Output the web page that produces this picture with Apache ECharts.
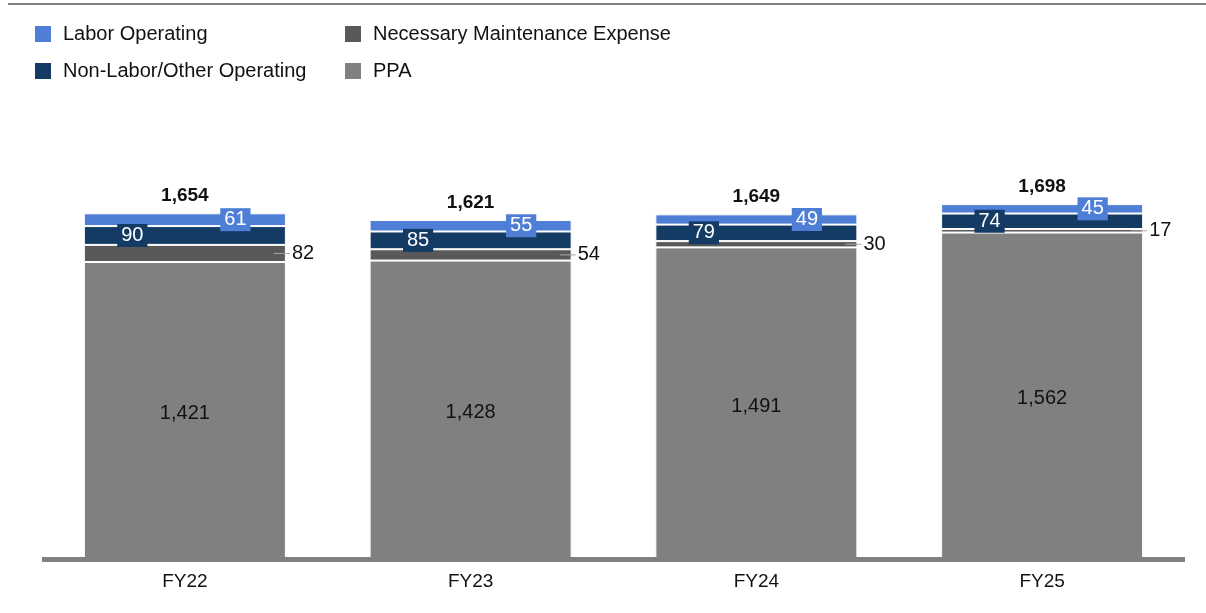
<!DOCTYPE html>
<html>
<head>
<meta charset="utf-8">
<script src="https://cdn.jsdelivr.net/npm/echarts@6/dist/echarts.min.js"></script>
<style>
  html, body { margin: 0; padding: 0; background: #fff; }
  #main { width: 1206px; height: 613px; }
</style>
</head>
<body>
<div id="main"></div>
<script>
var categories = ["FY22", "FY23", "FY24", "FY25"];
var ppa = [1421, 1428, 1491, 1562];
var maintenance = [82, 54, 30, 17];
var nonLabor = [90, 85, 79, 74];
var labor = [61, 55, 49, 45];
var totals = [1654, 1621, 1649, 1698];

var FONT = "'Liberation Sans', Arial, sans-serif";
var BAR_W = "70.7%";
var C_LABOR = "#4E7ED5", C_NONLABOR = "#143B64", C_MAINT = "#595959", C_PPA = "#808080";

var chart = echarts.init(document.getElementById("main"));

function fmt(v) {
  return v.toString().replace(/\B(?=(\d{3})+(?!\d))/g, ",");
}

// white number in a box of the segment colour
function boxLabel(color, pos) {
  return {
    show: true,
    position: pos,
    align: "center",
    verticalAlign: "middle",
    color: "#fff",
    fontSize: 20,
    fontFamily: FONT,
    backgroundColor: color,
    padding: [2, 4, 1, 4]
  };
}

var legendText = { fontSize: 20, color: "#111", fontFamily: FONT, padding: [0, 0, 0, 6] };

var option = {
  animation: false,
  textStyle: { fontFamily: FONT },
  graphic: [{
    type: "line",
    shape: { x1: 8, y1: 4, x2: 1206, y2: 4 },
    style: { stroke: "#808080", lineWidth: 2 }
  }],
  legend: [{
    orient: "vertical",
    left: 28, top: 19,
    itemWidth: 18, itemHeight: 18, itemGap: 17,
    icon: "rect",
    textStyle: legendText,
    data: ["Labor Operating", "Non-Labor/Other Operating"]
  }, {
    orient: "vertical",
    left: 338, top: 19,
    itemWidth: 18, itemHeight: 18, itemGap: 17,
    icon: "rect",
    textStyle: legendText,
    data: ["Necessary Maintenance Expense", "PPA"]
  }],
  grid: { left: 42, right: 21, top: 141, bottom: 54 },
  xAxis: {
    type: "category",
    data: categories,
    z: 5,
    axisLine: { lineStyle: { color: "#808080", width: 5, cap: "butt" } },
    axisTick: { show: false },
    axisLabel: { fontSize: 19, color: "#111", fontFamily: FONT, margin: 13 }
  },
  yAxis: {
    type: "value",
    min: 0, max: 2000,
    show: false,
    splitLine: { show: false }
  },
  series: [{
    name: "PPA",
    type: "bar",
    stack: "total",
    barWidth: BAR_W,
    data: ppa,
    itemStyle: { color: C_PPA, borderColor: "#fff", borderWidth: 1 },
    label: {
      show: true, position: "inside", offset: [0, 3], color: "#111", fontSize: 20, fontFamily: FONT,
      formatter: function (p) { return fmt(p.value); }
    }
  }, {
    name: "Necessary Maintenance Expense",
    type: "bar",
    stack: "total",
    barWidth: BAR_W,
    data: maintenance,
    itemStyle: { color: C_MAINT, borderColor: "#fff", borderWidth: 1 },
    label: {
      show: true, position: "right", distance: 0, offset: [-12, 0],
      formatter: function (p) { return "{l| }{v|" + p.value + "}"; },
      rich: {
        l: { width: 16, height: 1, backgroundColor: "#a6a6a6" },
        v: { color: "#111", fontSize: 20, fontFamily: FONT, padding: [0, 0, 0, 2] }
      }
    }
  }, {
    name: "Non-Labor/Other Operating",
    type: "bar",
    stack: "total",
    barWidth: BAR_W,
    data: nonLabor,
    itemStyle: { color: C_NONLABOR, borderColor: "#fff", borderWidth: 1 },
    label: boxLabel(C_NONLABOR, ["24%", "50%"])
  }, {
    name: "Labor Operating",
    type: "bar",
    stack: "total",
    barWidth: BAR_W,
    data: labor,
    itemStyle: { color: C_LABOR, borderColor: "#fff", borderWidth: 1 },
    label: boxLabel(C_LABOR, ["75%", "50%"])
  }, {
    name: "Total",
    type: "bar",
    barWidth: BAR_W,
    barGap: "-100%",
    z: 1,
    data: totals,
    itemStyle: { color: "rgba(0,0,0,0)" },
    label: {
      show: true, position: "top", distance: 8,
      color: "#111", fontSize: 19, fontWeight: "bold", fontFamily: FONT,
      formatter: function (p) { return fmt(p.value); }
    }
  }]
};

chart.setOption(option);
</script>
</body>
</html>
